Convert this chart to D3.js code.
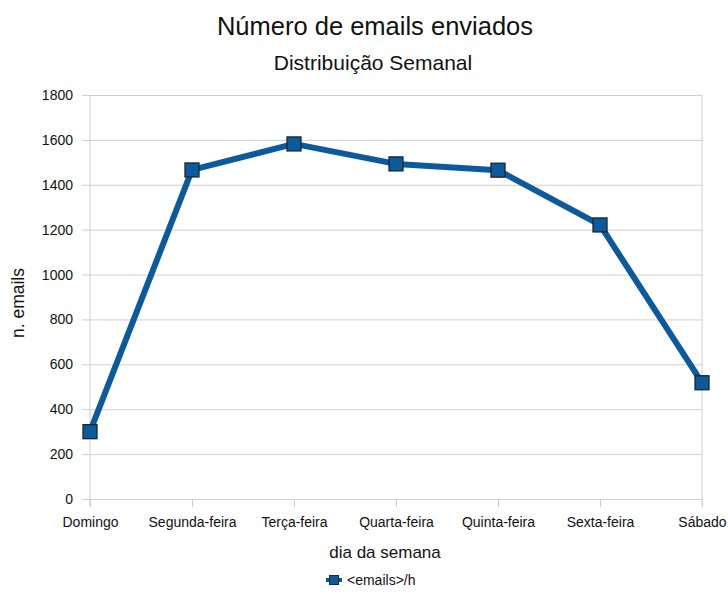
<!DOCTYPE html>
<html>
<head>
<meta charset="utf-8">
<script src="https://cdn.jsdelivr.net/npm/d3@7"></script>
<style>
  body { margin: 0; background: #fff; }
  text { font-family: "Liberation Sans", Arial, sans-serif; fill: #111; }
</style>
</head>
<body>
<div id="chart"></div>
<script>
// data
var days = ["Domingo", "Segunda-feira", "Terça-feira", "Quarta-feira", "Quinta-feira", "Sexta-feira", "Sábado"];
var emails = [300, 1466, 1582, 1493, 1465, 1221, 518];
var yTicks = [0, 200, 400, 600, 800, 1000, 1200, 1400, 1600, 1800];
var seriesName = "<emails>/h";

var W = 728, H = 594;
var margin = {top: 95, right: 26, bottom: 95, left: 90},
    width = W - margin.left - margin.right,
    height = H - margin.top - margin.bottom;

var svg = d3.select("#chart").append("svg")
    .attr("width", W).attr("height", H);

var g = svg.append("g")
    .attr("transform", "translate(" + margin.left + "," + margin.top + ")");

var x = d3.scalePoint().domain(days).range([0, width]);
var y = d3.scaleLinear().domain([0, 1800]).range([height, 0]);

var lineColor = "#0a5a9c";

// horizontal grid + tick stubs
g.append("g")
    .attr("transform", "translate(-8,0)")
    .call(d3.axisLeft(y).tickValues(yTicks).tickFormat(d3.format("d")).tickSize(-width - 8))
    .call(s => s.select(".domain").remove())
    .call(s => s.selectAll("line").attr("stroke", "#cfcfcf"))
    .call(s => s.selectAll("text").attr("x", -9).style("font-size", "14px").attr("fill", "#111"));

// left and right borders
g.append("line").attr("x1", 0).attr("x2", 0).attr("y1", 0).attr("y2", height + 8).attr("stroke", "#cfcfcf");
g.append("line").attr("x1", width).attr("x2", width).attr("y1", 0).attr("y2", height + 8).attr("stroke", "#cfcfcf");

// x axis
g.append("g")
    .attr("transform", "translate(0," + height + ")")
    .call(d3.axisBottom(x).tickSize(8).tickPadding(10))
    .call(s => s.select(".domain").remove())
    .call(s => s.selectAll("line").attr("stroke", "#cfcfcf"))
    .call(s => s.selectAll("text").style("font-size", "14px").attr("fill", "#111"));

// line
var valueline = d3.line()
    .x(function(d, i) { return x(days[i]); })
    .y(function(d) { return y(d); });

g.append("path")
    .datum(emails)
    .attr("fill", "none")
    .attr("stroke", lineColor)
    .attr("stroke-width", 6)
    .attr("stroke-linejoin", "round")
    .attr("d", valueline);

// square markers
var ms = 14;
g.selectAll("rect.pt")
    .data(emails)
    .enter().append("rect")
    .attr("class", "pt")
    .attr("x", (d, i) => x(days[i]) - ms / 2)
    .attr("y", d => y(d) - ms / 2)
    .attr("width", ms).attr("height", ms)
    .attr("fill", lineColor)
    .attr("stroke", "#1b2633")
    .attr("stroke-width", 1.3);

// titles
svg.append("text")
    .attr("x", 375).attr("y", 35)
    .attr("text-anchor", "middle")
    .style("font-size", "25.5px")
    .text("Número de emails enviados");

svg.append("text")
    .attr("x", 373).attr("y", 70)
    .attr("text-anchor", "middle")
    .style("font-size", "21px")
    .text("Distribuição Semanal");

// axis labels
svg.append("text")
    .attr("transform", "translate(24,303) rotate(-90)")
    .attr("text-anchor", "middle")
    .style("font-size", "17.5px")
    .text("n. emails");

svg.append("text")
    .attr("x", 385).attr("y", 558)
    .attr("text-anchor", "middle")
    .style("font-size", "17px")
    .text("dia da semana");

// legend
var lg = svg.append("g").attr("transform", "translate(334,585)");
lg.append("line").attr("x1", -8).attr("x2", 8).attr("y1", -5).attr("y2", -5)
    .attr("stroke", lineColor).attr("stroke-width", 4);
lg.append("rect").attr("x", -4.5).attr("y", -9.5).attr("width", 9).attr("height", 9)
    .attr("fill", lineColor).attr("stroke", "#1b2633").attr("stroke-width", 1);
lg.append("text").attr("x", 13).attr("y", 0)
    .style("font-size", "14px")
    .text(seriesName);
</script>
</body>
</html>
